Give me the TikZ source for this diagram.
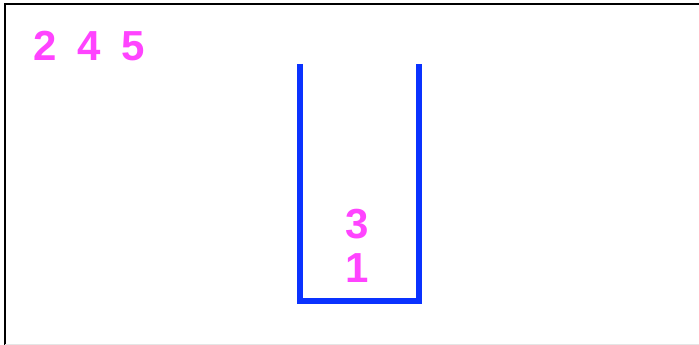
\documentclass[tikz,border=0pt]{standalone}
\usepackage{fontspec}
\setmainfont{Liberation Sans}
\definecolor{digitpink}{HTML}{FF44FF}
\definecolor{stackblue}{HTML}{0A32FF}
\tikzset{
  digit/.style={text=digitpink, inner sep=0pt, font=\fontsize{42}{48}\selectfont\bfseries},
  wall/.style={draw=stackblue, line width=6pt}
}
\begin{document}
\begin{tikzpicture}[x=1pt, y=-1pt]
  \useasboundingbox (0,0) rectangle (699,345);
  % khung
  \draw[black, line width=1.6pt] (699,4) -- (5,4) -- (5,345);
  \draw[gray!20, line width=1pt] (5,344) -- (699,344);
  % ngăn xếp
  \draw[wall] (300,64) -- (300,301) -- (419,301) -- (419,64);
  % các số chờ
  \foreach \d/\x in {2/45, 4/89, 5/133} {
    \node[digit] (n\d) at (\x,46) {\d};
  }
  % các số trong ngăn
  \node[digit] (n3) at (357,224) {3};
  \node[digit] (n1) at (357,268) {1};
\end{tikzpicture}
\end{document}
